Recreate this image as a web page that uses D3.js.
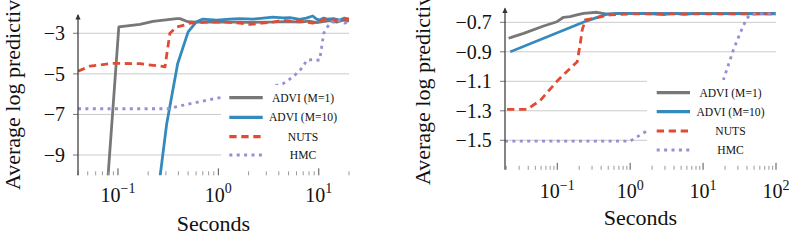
<!DOCTYPE html>
<html><head><meta charset="utf-8">
<script src="https://cdn.jsdelivr.net/npm/d3@7"></script>
<style>
body{margin:0;background:#fff}
svg{display:block}
</style>
</head><body>
<svg id="c" width="790" height="252"></svg>
<script>
// ---------- DATA ----------
const seriesNames = ["ADVI (M=1)", "ADVI (M=10)", "NUTS", "HMC"];
const yLabelText = "Average log predictive";
const xLabelText = "Seconds";

// Left panel (seconds, value)
const leftAdvi1 = [[0.0795,-10.1],[0.102,-2.69],[0.1655,-2.56],[0.223,-2.41],[0.384,-2.28],[0.414,-2.28],[0.497,-2.43],[0.6,-2.45],[0.8,-2.45],[1.0,-2.44],[1.5,-2.45],[2.0,-2.46],[3.0,-2.45],[4.0,-2.44],[5.0,-2.42],[6.5,-2.45],[8.0,-2.4],[9.5,-2.48],[11,-2.42],[13,-2.38],[15,-2.45],[17.5,-2.35],[20,-2.4]];
const leftAdvi10 = [[0.262,-10.1],[0.305,-7.5],[0.393,-4.5],[0.50,-2.93],[0.6,-2.45],[0.7,-2.3],[0.96,-2.35],[1.3,-2.3],[1.64,-2.28],[2.2,-2.3],[2.8,-2.25],[3.49,-2.2],[4.4,-2.24],[5.15,-2.23],[6.47,-2.32],[7.5,-2.25],[8.71,-2.15],[9.5,-2.3],[10.2,-2.35],[11.2,-2.25],[12,-2.3],[14,-2.28],[16.2,-2.35],[18,-2.25],[20,-2.3]];
const leftNuts = [[0.04,-4.87],[0.0527,-4.62],[0.089,-4.48],[0.1655,-4.5],[0.262,-4.62],[0.294,-4.65],[0.329,-3.0],[0.384,-2.69],[0.497,-2.56],[0.52,-2.5],[0.763,-2.45],[1.2,-2.45],[1.64,-2.5],[2.06,-2.56],[2.7,-2.5],[3.49,-2.45],[4.38,-2.36],[5.2,-2.4],[6.47,-2.4],[8.71,-2.5],[10.2,-2.4],[12,-2.28],[14,-2.35],[16.2,-2.35],[18,-2.3],[20,-2.3]];
const leftHmc = [[0.04,-6.72],[0.315,-6.72],[0.414,-6.58],[0.655,-6.37],[0.96,-6.2],[2.2,-5.9],[4.41,-5.48],[5.55,-5.15],[6.98,-4.66],[7.55,-4.33],[8.72,-4.3],[10.2,-4.33],[10.7,-3.66],[11.2,-3.0],[11.9,-2.75],[13.4,-2.43],[15,-2.5],[16.2,-2.35],[18,-2.5],[20,-2.45]];

// Right panel (seconds, value)
const rightAdvi1 = [[0.0215,-0.808],[0.0346,-0.775],[0.065,-0.725],[0.099,-0.696],[0.122,-0.666],[0.15,-0.662],[0.186,-0.65],[0.229,-0.639],[0.35,-0.632],[0.48,-0.644],[0.7,-0.64],[1.2,-0.64],[2,-0.642],[3,-0.647],[4,-0.64],[5.5,-0.646],[8,-0.64],[15,-0.641],[30,-0.64],[60,-0.641],[100,-0.64]];
const rightAdvi10 = [[0.0227,-0.9],[0.255,-0.69],[0.48,-0.645],[0.81,-0.64],[2,-0.64],[10,-0.641],[100,-0.642]];
const rightNuts = [[0.0205,-1.29],[0.0385,-1.29],[0.0585,-1.23],[0.099,-1.1],[0.121,-1.057],[0.188,-0.967],[0.207,-0.842],[0.22,-0.752],[0.242,-0.684],[0.53,-0.65],[1,-0.643],[3,-0.643],[10,-0.643],[30,-0.643],[100,-0.643]];
const rightHmc = [[0.0192,-1.505],[1.0,-1.505],[1.69,-1.437],[5,-1.32],[12,-1.18],[19,-1.09],[26,-0.888],[32.1,-0.775],[39.7,-0.673],[46.4,-0.644],[100,-0.642]];

// Tick values
const leftYTicks = [-3, -5, -7, -9];
const rightYTicks = [-0.7, -0.9, -1.1, -1.3, -1.5];
const leftXTickExps = [-1, 0, 1];
const rightXTickExps = [-1, 0, 1, 2];

// ---------- STYLE ----------
const colors = ["#777777", "#348ABD", "#E24A33", "#988ED5"];
const dashes = [null, null, "7.3,4.7", "3,4.4"];
const FONT = "'Liberation Serif', 'DejaVu Serif', 'Times New Roman', Times, serif";
const FONT_TICK = 20, FONT_LABEL = 22, FONT_LEG = 11.6;

const svg = d3.select("#c");
const fmtMinus = v => (v < 0 ? "\u2212" : "") + Math.abs(v);
const txt = sel => sel.attr("font-family", FONT).attr("fill", "#111").style("font-family", FONT);

function panel(cfg) {
  const x = d3.scaleLog().domain(cfg.xDomain).range(cfg.xRange);
  const y = d3.scaleLinear().domain(cfg.yDomain).range(cfg.yRange);
  const g = svg.append("g");
  const [x0, x1] = cfg.xRange;
  const [yb, yt] = cfg.yRange;

  // gridlines
  g.selectAll("line.grid").data(cfg.yTicks).enter().append("line")
    .attr("x1", x0).attr("x2", x1)
    .attr("y1", d => y(d)).attr("y2", d => y(d))
    .attr("stroke", "#cbcbcb").attr("stroke-width", 1);
  // y tick marks
  g.selectAll("line.yt").data(cfg.yTicks).enter().append("line")
    .attr("x1", x0 - 5).attr("x2", x0)
    .attr("y1", d => y(d)).attr("y2", d => y(d))
    .attr("stroke", "#777").attr("stroke-width", 1);
  // y tick labels
  g.selectAll("text.yl").data(cfg.yTicks).enter().append("text")
    .attr("x", cfg.yLabelRight).attr("y", d => y(d)).attr("dy", "0.35em")
    .attr("text-anchor", "end").attr("font-size", FONT_TICK)
    .call(txt)
    .text(d => fmtMinus(d));

  // clip
  const cid = "clip" + cfg.id;
  svg.append("clipPath").attr("id", cid).append("rect")
    .attr("x", x0).attr("y", yt).attr("width", x1 - x0).attr("height", yb - yt);

  const line = d3.line().x(d => x(d[0])).y(d => y(d[1]));
  const lg = g.append("g").attr("clip-path", `url(#${cid})`);
  cfg.series.forEach((s, i) => {
    lg.append("path").attr("d", line(s)).attr("fill", "none")
      .attr("stroke", colors[i]).attr("stroke-width", 2.8)
      .attr("stroke-dasharray", dashes[i])
      .attr("stroke-linejoin", "round");
  });

  // legend
  const L = cfg.legend;
  g.append("rect").attr("x", L.x).attr("y", L.y).attr("width", L.w).attr("height", L.h)
    .attr("fill", "#fff");
  seriesNames.forEach((n, i) => {
    const ry = L.rows[i];
    g.append("line").attr("x1", L.lx0).attr("x2", L.lx1).attr("y1", ry).attr("y2", ry)
      .attr("stroke", colors[i]).attr("stroke-width", 3.2)
      .attr("stroke-dasharray", dashes[i]);
    g.append("text").attr("x", L.tx).attr("y", ry).attr("dy", "0.35em")
      .attr("text-anchor", "middle").attr("font-size", FONT_LEG).call(txt).text(n);
  });

  // x ticks (inward, no axis line)
  const isMajor = d => Math.abs(Math.log10(d) - Math.round(Math.log10(d))) < 1e-6;
  const ticks = x.ticks().filter(t => t >= cfg.xDomain[0] * 0.999 && t <= cfg.xDomain[1] * 1.001);
  g.selectAll("line.xt").data(ticks).enter().append("line")
    .attr("x1", d => x(d)).attr("x2", d => x(d))
    .attr("y1", yb)
    .attr("y2", d => yb - (isMajor(d) ? 7 : 4))
    .attr("stroke", d => isMajor(d) ? "#555" : "#999")
    .attr("stroke-width", 1);
  // x tick labels
  cfg.xTickExps.forEach(e => {
    const t = g.append("text").attr("x", x(Math.pow(10, e))).attr("y", cfg.xLabelBase)
      .attr("text-anchor", "middle").attr("font-size", FONT_TICK).call(txt);
    t.append("tspan").text("10");
    t.append("tspan").attr("dy", -8.4).attr("font-size", 14).text(fmtMinus(e));
  });

  // y axis line with arrow
  g.append("line").attr("x1", x0).attr("x2", x0).attr("y1", yb).attr("y2", yt + 1)
    .attr("stroke", "#333").attr("stroke-width", 1.2);
  g.append("path").attr("d", `M${x0 - 2.6},${yt + 5.5}L${x0},${yt}L${x0 + 2.6},${yt + 5.5}Z`)
    .attr("fill", "#333");

  // axis labels
  g.append("text").attr("x", (x0 + x1) / 2).attr("y", cfg.xTitleBase)
    .attr("text-anchor", "middle").attr("font-size", FONT_LABEL).call(txt).text(xLabelText);
  g.append("text").attr("transform", `translate(${cfg.yTitleX},${cfg.yTitleY}) rotate(-90)`)
    .attr("text-anchor", "start").attr("font-size", FONT_LABEL).call(txt).text(yLabelText);
}

panel({
  id: "L",
  xDomain: [0.04, 20], xRange: [78, 349],
  yDomain: [-10, -2.05], yRange: [175.3, 14],
  yTicks: leftYTicks, xTickExps: leftXTickExps,
  series: [leftAdvi1, leftAdvi10, leftNuts, leftHmc],
  yLabelRight: 65, xLabelBase: 201.7, xTitleBase: 231,
  yTitleX: 20, yTitleY: 190,
  legend: {x: 221, y: 85, w: 132, h: 83, rows: [97.7, 117.3, 136.7, 155], lx0: 229.3, lx1: 262.7, tx: 303}
});

panel({
  id: "R",
  xDomain: [0.0192, 100], xRange: [505, 776],
  yDomain: [-1.7, -0.6], yRange: [169.8, 7.55],
  yTicks: rightYTicks, xTickExps: rightXTickExps,
  series: [rightAdvi1, rightAdvi10, rightNuts, rightHmc],
  yLabelRight: 491.7, xLabelBase: 198.3, xTitleBase: 225,
  yTitleX: 430, yTitleY: 185,
  legend: {x: 647, y: 80, w: 140, h: 82, rows: [92.7, 111.7, 131, 150], lx0: 656.7, lx1: 690, tx: 730.5}
});
</script>
</body></html>
